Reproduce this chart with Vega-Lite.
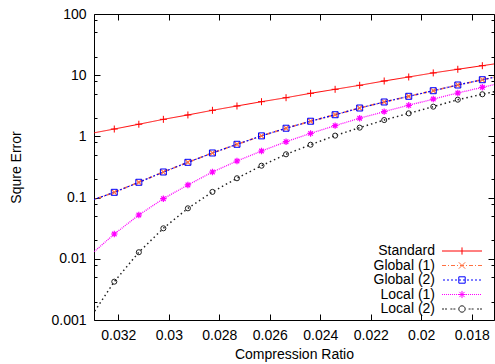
{
  "$schema": "https://vega.github.io/schema/vega-lite/v6.json",
  "autosize": "none",
  "width": 400,
  "height": 306,
  "padding": {"left": 94, "top": 14, "right": 1, "bottom": 44},
  "background": "white",
  "data": {
    "values": [
      {"series": "Standard", "r": 0.033131, "e": 1.11},
      {"series": "Standard", "r": 0.032159, "e": 1.32},
      {"series": "Standard", "r": 0.031187, "e": 1.58},
      {"series": "Standard", "r": 0.030215, "e": 1.90},
      {"series": "Standard", "r": 0.029243, "e": 2.24},
      {"series": "Standard", "r": 0.028271, "e": 2.67},
      {"series": "Standard", "r": 0.027299, "e": 3.14},
      {"series": "Standard", "r": 0.026327, "e": 3.69},
      {"series": "Standard", "r": 0.025355, "e": 4.29},
      {"series": "Standard", "r": 0.024383, "e": 5.06},
      {"series": "Standard", "r": 0.023411, "e": 5.88},
      {"series": "Standard", "r": 0.022439, "e": 6.84},
      {"series": "Standard", "r": 0.021467, "e": 8.04},
      {"series": "Standard", "r": 0.020495, "e": 9.35},
      {"series": "Standard", "r": 0.019523, "e": 10.9},
      {"series": "Standard", "r": 0.018551, "e": 12.5},
      {"series": "Standard", "r": 0.017579, "e": 14.3},
      {"series": "Standard", "r": 0.016607, "e": 16.4},
      {"series": "Global (1)", "r": 0.033131, "e": 0.088},
      {"series": "Global (1)", "r": 0.032159, "e": 0.122},
      {"series": "Global (1)", "r": 0.031187, "e": 0.178},
      {"series": "Global (1)", "r": 0.030215, "e": 0.262},
      {"series": "Global (1)", "r": 0.029243, "e": 0.377},
      {"series": "Global (1)", "r": 0.028271, "e": 0.536},
      {"series": "Global (1)", "r": 0.027299, "e": 0.743},
      {"series": "Global (1)", "r": 0.026327, "e": 1.02},
      {"series": "Global (1)", "r": 0.025355, "e": 1.36},
      {"series": "Global (1)", "r": 0.024383, "e": 1.77},
      {"series": "Global (1)", "r": 0.023411, "e": 2.26},
      {"series": "Global (1)", "r": 0.022439, "e": 2.91},
      {"series": "Global (1)", "r": 0.021467, "e": 3.65},
      {"series": "Global (1)", "r": 0.020495, "e": 4.52},
      {"series": "Global (1)", "r": 0.019523, "e": 5.58},
      {"series": "Global (1)", "r": 0.018551, "e": 6.92},
      {"series": "Global (1)", "r": 0.017579, "e": 8.44},
      {"series": "Global (1)", "r": 0.016607, "e": 10.2},
      {"series": "Global (2)", "r": 0.033131, "e": 0.088},
      {"series": "Global (2)", "r": 0.032159, "e": 0.122},
      {"series": "Global (2)", "r": 0.031187, "e": 0.178},
      {"series": "Global (2)", "r": 0.030215, "e": 0.262},
      {"series": "Global (2)", "r": 0.029243, "e": 0.377},
      {"series": "Global (2)", "r": 0.028271, "e": 0.536},
      {"series": "Global (2)", "r": 0.027299, "e": 0.743},
      {"series": "Global (2)", "r": 0.026327, "e": 1.02},
      {"series": "Global (2)", "r": 0.025355, "e": 1.36},
      {"series": "Global (2)", "r": 0.024383, "e": 1.77},
      {"series": "Global (2)", "r": 0.023411, "e": 2.26},
      {"series": "Global (2)", "r": 0.022439, "e": 2.91},
      {"series": "Global (2)", "r": 0.021467, "e": 3.65},
      {"series": "Global (2)", "r": 0.020495, "e": 4.52},
      {"series": "Global (2)", "r": 0.019523, "e": 5.58},
      {"series": "Global (2)", "r": 0.018551, "e": 6.92},
      {"series": "Global (2)", "r": 0.017579, "e": 8.44},
      {"series": "Global (2)", "r": 0.016607, "e": 10.2},
      {"series": "Local (1)", "r": 0.033131, "e": 0.0113},
      {"series": "Local (1)", "r": 0.032159, "e": 0.0254},
      {"series": "Local (1)", "r": 0.031187, "e": 0.052},
      {"series": "Local (1)", "r": 0.030215, "e": 0.096},
      {"series": "Local (1)", "r": 0.029243, "e": 0.161},
      {"series": "Local (1)", "r": 0.028271, "e": 0.262},
      {"series": "Local (1)", "r": 0.027299, "e": 0.396},
      {"series": "Local (1)", "r": 0.026327, "e": 0.577},
      {"series": "Local (1)", "r": 0.025355, "e": 0.819},
      {"series": "Local (1)", "r": 0.024383, "e": 1.12},
      {"series": "Local (1)", "r": 0.023411, "e": 1.5},
      {"series": "Local (1)", "r": 0.022439, "e": 1.98},
      {"series": "Local (1)", "r": 0.021467, "e": 2.54},
      {"series": "Local (1)", "r": 0.020495, "e": 3.22},
      {"series": "Local (1)", "r": 0.019523, "e": 4.08},
      {"series": "Local (1)", "r": 0.018551, "e": 5.12},
      {"series": "Local (1)", "r": 0.017579, "e": 6.34},
      {"series": "Local (1)", "r": 0.016607, "e": 7.85},
      {"series": "Local (2)", "r": 0.033131, "e": 0.00105},
      {"series": "Local (2)", "r": 0.032159, "e": 0.00423},
      {"series": "Local (2)", "r": 0.031187, "e": 0.0128},
      {"series": "Local (2)", "r": 0.030215, "e": 0.0315},
      {"series": "Local (2)", "r": 0.029243, "e": 0.0668},
      {"series": "Local (2)", "r": 0.028271, "e": 0.124},
      {"series": "Local (2)", "r": 0.027299, "e": 0.207},
      {"series": "Local (2)", "r": 0.026327, "e": 0.332},
      {"series": "Local (2)", "r": 0.025355, "e": 0.51},
      {"series": "Local (2)", "r": 0.024383, "e": 0.731},
      {"series": "Local (2)", "r": 0.023411, "e": 1.03},
      {"series": "Local (2)", "r": 0.022439, "e": 1.39},
      {"series": "Local (2)", "r": 0.021467, "e": 1.85},
      {"series": "Local (2)", "r": 0.020495, "e": 2.38},
      {"series": "Local (2)", "r": 0.019523, "e": 3.06},
      {"series": "Local (2)", "r": 0.018551, "e": 3.98},
      {"series": "Local (2)", "r": 0.017579, "e": 4.88},
      {"series": "Local (2)", "r": 0.016607, "e": 6.0}
    ]
  },
  "resolve": {"axis": {"x": "independent", "y": "independent"}},
  "layer": [
    {
      "transform": [{"filter": "false"}],
      "mark": {"type": "point", "filled": false, "strokeWidth": 1, "size": 64, "opacity": 1},
      "encoding": {
        "x": {
          "field": "r", "type": "quantitative",
          "scale": {"domain": [0.017117, 0.032963], "reverse": true, "nice": false, "zero": false},
          "axis": null
        },
        "y": {
          "field": "e", "type": "quantitative",
          "scale": {"type": "log", "domain": [0.001, 100], "nice": false},
          "axis": null
        },
        "color": {
          "field": "series", "type": "nominal",
          "scale": {"domain": ["Standard", "Global (1)", "Global (2)", "Local (1)", "Local (2)"], "range": ["#ff0000", "#ff7040", "#0000ff", "#ff00ff", "#202020"]},
          "legend": {"title": null, "orient": "none", "legendX": 361, "legendY": 230, "padding": 0, "labelAlign": "right", "labelOffset": -34, "symbolSize": 64, "symbolStrokeWidth": 1, "rowPadding": 0.5}
        },
        "shape": {
          "field": "series", "type": "nominal",
          "scale": {
            "domain": ["Standard", "Global (1)", "Global (2)", "Local (1)", "Local (2)"],
            "range": [
              "M-5,0H5M0,-0.9V0.9",
              "M-5,0H-4M-3.5,0H-3.25M-2.75,0H-1.75M-1.25,0H-1M-0.5,0H0.5M1,0H1.25M1.75,0H2.75M3.25,0H3.5M4,0H5M-0.8,-0.8L0.8,0.8M-0.8,0.8L0.8,-0.8",
              "M-4.75,0H-4.25M-3.75,0H-3.25M-2.75,0H-2.25M-1.75,0H-1.25M-0.75,0H-0.25M0.25,0H0.75M1.25,0H1.75M2.25,0H2.75M3.25,0H3.75M4.25,0H4.75M-0.8,-0.8H0.8V0.8H-0.8Z",
              "M-5,0H-4.75M-4.5,0H-4.25M-4,0H-3.75M-3.5,0H-3.25M-3,0H-2.75M-2.5,0H-2.25M-2,0H-1.75M-1.5,0H-1.25M-1,0H-0.75M-0.5,0H-0.25M0,0H0.25M0.5,0H0.75M1,0H1.25M1.5,0H1.75M2,0H2.25M2.5,0H2.75M3,0H3.25M3.5,0H3.75M4,0H4.25M4.5,0H4.75M-0.9,0H0.9M0,-0.9V0.9M-0.65,-0.65L0.65,0.65M-0.65,0.65L0.65,-0.65",
              "M-5,0H-4.5M-4.25,0H-3.75M-2.9,0H-2.4M-2.15,0H-1.65M1.65,0H2.15M2.4,0H2.9M3.75,0H4.25M4.5,0H5M0.8,0A0.8,0.8,0,1,1,-0.8,0A0.8,0.8,0,1,1,0.8,0"
            ]
          },
          "legend": {"title": null, "orient": "none", "legendX": 361, "legendY": 230, "padding": 0, "labelAlign": "right", "labelOffset": -34, "symbolSize": 64, "symbolStrokeWidth": 1, "rowPadding": 0.5}
        }
      }
    },
    {
      "mark": {"type": "line", "clip": true},
      "encoding": {
        "x": {
          "field": "r", "type": "quantitative",
          "axis": {"orient": "bottom", "title": "Compression Ratio", "values": [0.018, 0.02, 0.022, 0.024, 0.026, 0.028, 0.03, 0.032], "format": "~g", "tickSize": -6, "labelPadding": 14, "titlePadding": 5}
        },
        "y": {
          "field": "e", "type": "quantitative",
          "axis": {"orient": "left", "title": "Squre Error", "values": [0.001, 0.01, 0.1, 1, 10, 100], "format": "~g", "tickSize": -6, "labelPadding": 14, "titlePadding": 27}
        },
        "color": {"field": "series", "type": "nominal", "legend": null},
        "strokeDash": {
          "field": "series", "type": "nominal",
          "scale": {"domain": ["Local (2)", "Local (1)", "Global (2)", "Global (1)", "Standard"], "range": [[1.5, 3], [1, 1], [2, 2], [4, 2, 1, 2], [1, 0]]},
          "legend": null
        },
        "strokeWidth": {
          "field": "series", "type": "nominal",
          "scale": {"domain": ["Global (1)", "Local (2)", "Local (1)", "Global (2)", "Standard"], "range": [1.6, 1, 1, 1, 1]},
          "legend": null
        }
      }
    },
    {
      "transform": [{"filter": "datum.series == 'Standard'"}],
      "mark": {"type": "point", "clip": true, "filled": false, "strokeWidth": 1, "size": 49, "shape": "M-1,0H1M0,-1V1", "opacity": 1},
      "encoding": {
        "x": {"field": "r", "type": "quantitative", "axis": {"orient": "top", "labels": false, "title": null, "values": [0.018, 0.02, 0.022, 0.024, 0.026, 0.028, 0.03, 0.032], "tickSize": -6}},
        "y": {"field": "e", "type": "quantitative", "axis": {"orient": "right", "labels": false, "title": null, "values": [0.001, 0.01, 0.1, 1, 10, 100], "tickSize": -6}},
        "color": {"field": "series", "type": "nominal", "legend": null}
      }
    },
    {
      "transform": [{"filter": "datum.series == 'Global (1)'"}],
      "mark": {"type": "point", "clip": true, "filled": false, "strokeWidth": 1.2, "size": 49, "shape": "M-0.8,-0.8L0.8,0.8M-0.8,0.8L0.8,-0.8", "opacity": 1},
      "encoding": {
        "x": {"field": "r", "type": "quantitative", "axis": null},
        "y": {"field": "e", "type": "quantitative", "axis": {"orient": "left", "labels": false, "title": null, "values": [0.002, 0.005, 0.008, 0.02, 0.05, 0.08, 0.2, 0.5, 0.8, 2, 5, 8, 20, 50, 80], "tickSize": -3}},
        "color": {"field": "series", "type": "nominal", "legend": null}
      }
    },
    {
      "transform": [{"filter": "datum.series == 'Global (2)'"}],
      "mark": {"type": "point", "clip": true, "filled": false, "strokeWidth": 1, "size": 36, "shape": "square", "opacity": 1},
      "encoding": {
        "x": {"field": "r", "type": "quantitative", "axis": null},
        "y": {"field": "e", "type": "quantitative", "axis": {"orient": "right", "labels": false, "title": null, "values": [0.002, 0.005, 0.008, 0.02, 0.05, 0.08, 0.2, 0.5, 0.8, 2, 5, 8, 20, 50, 80], "tickSize": -3}},
        "color": {"field": "series", "type": "nominal", "legend": null}
      }
    },
    {
      "transform": [{"filter": "datum.series == 'Local (1)'"}],
      "mark": {"type": "point", "clip": true, "filled": false, "strokeWidth": 1.2, "size": 42, "shape": "M-1,0H1M0,-1V1M-0.7,-0.7L0.7,0.7M-0.7,0.7L0.7,-0.7", "opacity": 1},
      "encoding": {
        "x": {"field": "r", "type": "quantitative", "axis": null},
        "y": {"field": "e", "type": "quantitative", "axis": null},
        "color": {"field": "series", "type": "nominal", "legend": null}
      }
    },
    {
      "transform": [{"filter": "datum.series == 'Local (2)'"}],
      "mark": {"type": "point", "clip": true, "filled": false, "strokeWidth": 1, "size": 26, "shape": "circle", "opacity": 1},
      "encoding": {
        "x": {"field": "r", "type": "quantitative", "axis": null},
        "y": {"field": "e", "type": "quantitative", "axis": null},
        "color": {"field": "series", "type": "nominal", "legend": null}
      }
    }
  ],
  "config": {
    "view": {"stroke": "black", "strokeWidth": 1},
    "axis": {
      "domain": false, "grid": false, "ticks": true, "tickColor": "black", "tickWidth": 1,
      "labelFont": "Liberation Sans", "labelFontSize": 14, "labelColor": "black",
      "labelOverlap": false, "labelFlush": false,
      "titleFont": "Liberation Sans", "titleFontSize": 14, "titleFontWeight": "normal", "titleColor": "black"
    },
    "legend": {"labelFont": "Liberation Sans", "labelFontSize": 14, "labelColor": "black", "labelLimit": 0}
  }
}
